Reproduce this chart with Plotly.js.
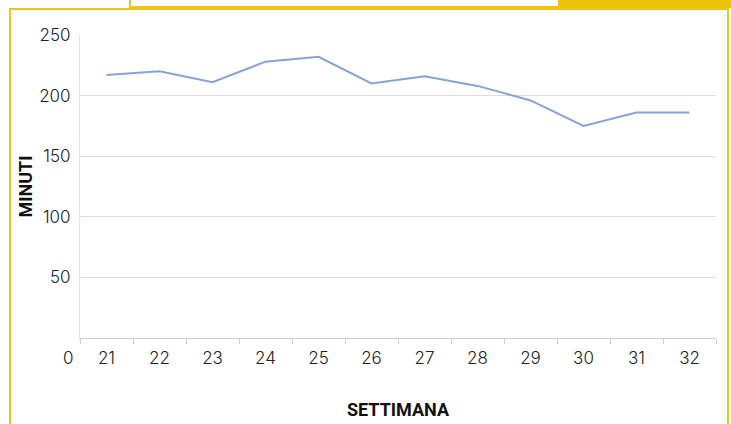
<!DOCTYPE html>
<html>
<head>
<meta charset="utf-8">
<script src="https://cdn.plot.ly/plotly-3.0.1.min.js"></script>
<style>
  html, body { margin: 0; padding: 0; background: #ffffff; }
  #wrap { position: relative; width: 731px; height: 424px; overflow: hidden; }
  .frame { position: absolute; left: 9px; top: 8px; width: 720px; height: 430px; border: 2px solid #eec51a; box-sizing: border-box; }
  .tab { position: absolute; left: 129px; top: -2px; width: 431px; height: 10px; border: 2px solid #eec51a; box-sizing: border-box; background: #fff; }
  .bar { position: absolute; left: 559px; top: 0px; width: 172px; height: 8px; background: #ebc30b; }
  #chart { position: absolute; left: 0; top: 0; width: 731px; height: 424px; }
</style>
</head>
<body>
<div id="wrap">
  <div class="tab"></div>
  <div class="bar"></div>
  <div class="frame"></div>
  <div id="chart"></div>
</div>
<script>
const weeks = ['21','22','23','24','25','26','27','28','29','30','31','32'];
const minutes = [217, 220, 211, 228, 232, 210, 216, 208, 196, 175, 186, 186];
const yTickVals = [50, 100, 150, 200, 250];
const yTickText = ['50', '100', '150', '200', '250'];
const zeroLabel = '0';
const xTitle = 'SETTIMANA';
const yTitle = 'MINUTI';

const tickFont = { family: 'Inter, sans-serif', size: 17, color: '#222', weight: 300 };
const titleFont = { family: 'Roboto, sans-serif', size: 18, color: '#111', weight: 'bold' };

Plotly.newPlot('chart', [{
  type: 'scatter',
  mode: 'lines',
  x: weeks,
  y: minutes,
  line: { color: '#86a3d8', width: 2 },
  hoverinfo: 'skip'
}], {
  width: 731,
  height: 424,
  margin: { l: 80, r: 15, t: 35, b: 86 },
  paper_bgcolor: 'rgba(0,0,0,0)',
  plot_bgcolor: 'rgba(0,0,0,0)',
  showlegend: false,
  xaxis: {
    type: 'category',
    range: [-0.5, 11.5],
    tickson: 'boundaries',
    ticks: 'outside',
    ticklen: 5,
    tickcolor: '#d0d0d0',
    showgrid: false,
    showline: true,
    linecolor: '#d0d0d0',
    linewidth: 1,
    zeroline: false,
    tickfont: tickFont,
    ticklabelstandoff: 5,
    title: { text: xTitle, font: titleFont, standoff: 35 },
    fixedrange: true
  },
  yaxis: {
    range: [0, 250],
    tickvals: yTickVals,
    ticktext: yTickText,
    ticks: '',
    showgrid: true,
    gridcolor: '#dcdcdc',
    gridwidth: 1,
    showline: true,
    linecolor: '#e2e2e2',
    linewidth: 1,
    zeroline: false,
    tickfont: tickFont,
    ticklabelstandoff: 5,
    title: { text: yTitle, font: titleFont, standoff: 1 },
    fixedrange: true
  },
  annotations: [{
    text: zeroLabel,
    xref: 'paper', yref: 'paper',
    x: -0.018, y: -0.066,
    xanchor: 'center', yanchor: 'middle',
    showarrow: false,
    font: tickFont
  }]
}, { displayModeBar: false, staticPlot: true });
</script>
</body>
</html>
